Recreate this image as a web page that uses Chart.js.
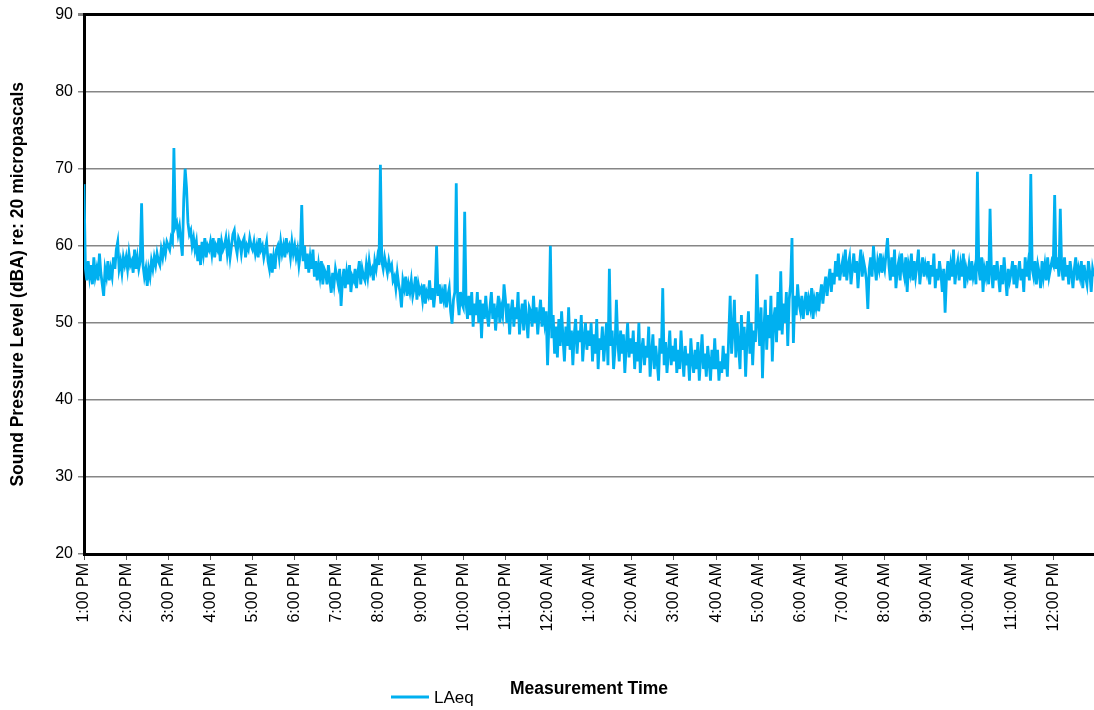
<!DOCTYPE html>
<html>
<head>
<meta charset="utf-8">
<script src="https://cdn.jsdelivr.net/npm/chart.js@4.4.1/dist/chart.umd.min.js"></script>
<style>
  html, body { margin: 0; padding: 0; background: #fff; }
  #wrap { width: 1094px; height: 710px; }
</style>
</head>
<body>
<div id="wrap"><canvas id="myChart" width="1094" height="710"></canvas></div>
<script>
// one reading every 2 minutes, starting at 1:00 PM (one row per hour)
var stepMinutes = 2;

var laeq = [
  68, 57, 55.5, 58, 56, 57.5, 55, 58.5, 56, 57, 55.5, 59, 56.5, 55, 53.5, 57, 56, 58, 55.5, 57, 56, 58.5, 57, 59.5, 60.5, 57, 58, 56.5, 58.5, 57.5,
  58.5, 57, 59, 57.5, 58, 56.5, 59.5, 57, 58.5, 57, 58, 65.5, 57.5, 56, 57, 54.8, 57, 56, 58, 57, 58.5, 57.5, 59, 58, 57.5, 59.5, 58.5, 60, 59, 60.5,
  60, 59.5, 61, 60.5, 72.7, 62.5, 63, 61.5, 62.5, 60.5, 58.7, 66, 70, 67.5, 63, 61.5, 62, 60, 61, 59.5, 60.5, 58, 60, 57.5, 60.5, 59, 61, 58.5, 60, 59.5,
  60.5, 59, 61, 58.5, 60, 59.5, 61, 58, 60.5, 59.5, 60, 61, 59, 60.5, 58.5, 60, 61.5, 62, 60, 59, 61, 60.5, 59, 60.5, 61, 58.5, 60, 59.5, 61, 60,
  59.5, 60.5, 59, 60, 58.5, 61, 59.5, 60, 58.5, 59.5, 60.5, 58, 57, 59, 56.5, 58.5, 57, 59.5, 60, 58.5, 60.5, 59, 60, 58.5, 61, 59.5, 60, 58.5, 60.5, 59,
  60, 58.5, 59.5, 57.5, 59, 65.3, 58, 60, 57, 59, 56.5, 58.5, 57, 59.5, 56, 58, 55.5, 57.5, 56, 58, 55, 57, 56.5, 55, 57.5, 55.5, 53.9, 56.5, 55, 57,
  56, 55, 57, 52.2, 55.5, 57, 54.5, 56.5, 55, 57.5, 54, 56, 55.5, 57, 54.5, 56.5, 58, 55, 57, 56, 55.5, 57.5, 56, 58, 56.5, 57, 55.5, 58, 57, 58.5,
  57.5, 70.5, 58, 57, 58.5, 57.5, 56.5, 58, 57, 57.5, 55.5, 56, 54.5, 56.5, 55, 54, 52, 55.5, 54.5, 56, 53.5, 55, 54, 55.5, 53.5, 54.5, 56, 53, 55, 54,
  54.5, 53, 55, 52.5, 54, 53.5, 55.5, 53, 54.5, 52, 54, 60, 53.5, 55, 52.5, 54, 53, 55, 52, 53.5, 54.5, 51.5, 49.9, 53, 54, 68.1, 53, 51, 54, 52.5,
  52, 64.4, 52.5, 50.5, 53.5, 51, 54, 49.5, 52.5, 51, 54, 50, 53, 48, 52.5, 50.5, 53.5, 51, 49.5, 52, 54, 50.5, 52.5, 49, 51.5, 53.5, 50, 52, 51, 55,
  53, 50, 52.5, 48.5, 51.5, 53, 49.5, 52, 50.5, 54, 48.5, 51, 52.5, 49, 53, 50.5, 48, 52, 51.5, 49.5, 53.5, 50, 52, 48.5, 51, 53, 49.5, 52, 50, 51.5,
  44.5, 50, 60, 48, 51, 46, 49.5, 45.5, 50.5, 47, 51.5, 48, 45, 49.5, 47, 52, 46.5, 49, 44.5, 48.5, 50.5, 46, 49, 47.5, 51, 45, 48, 50, 46.5, 49,
  47, 50, 45, 48.5, 46, 50.5, 44, 48, 46.5, 49.5, 45, 47.5, 50, 44.5, 57, 47, 49, 44, 46.5, 53, 47.5, 45, 49, 46, 48.5, 43.5, 47, 50, 45.5, 48,
  46, 49, 44, 47.5, 45, 50, 43.5, 46.5, 48, 44.5, 47, 45.5, 49.5, 43, 46, 48.5, 44, 47, 45, 42.5, 48, 46, 54.5, 44.5, 47.5, 43.5, 46, 49, 44.5, 47,
  45, 48, 43.5, 46.5, 44, 49, 45.5, 43, 47, 44.5, 46, 42.5, 48, 45, 43.5, 46.5, 44, 47.5, 42.5, 45.5, 48.5, 44, 46, 43, 47, 45, 42.5, 46.5, 44, 48,
  44, 46.5, 42.5, 45, 43.5, 47, 44, 46, 43, 48.5, 53.5, 46, 49, 53, 45.5, 50, 47, 44, 51, 46.5, 49.5, 43, 48, 51.5, 46, 50, 44.5, 49, 47.5, 56.3,
  50, 47, 52, 42.8, 49, 53, 46.5, 51, 48, 53.5, 45, 50.5, 52, 47.5, 54, 49, 56.7, 48.5, 52.5, 50, 54, 47, 53, 55, 61, 47.4, 53.5, 51, 55, 52.5,
  51.5, 53.5, 50.5, 52.5, 54, 51, 53, 52, 54.5, 50.5, 53, 52, 54, 51.5, 53.5, 55, 52.5, 54.5, 56, 53.5, 55.5, 57, 54, 56.5, 55, 58, 56, 59, 55.5, 57,
  58, 56, 59.5, 55.5, 57.5, 58.5, 55, 57, 59, 56.5, 58, 54.5, 57.5, 59.5, 56, 58, 57, 55.5, 51.8, 57, 58.5, 56, 60, 57.5, 55.5, 58, 57, 59, 56.5, 58,
  57, 59, 61, 57.5, 55.5, 58.5, 56, 59.5, 54.5, 57, 58, 55.5, 59, 57, 56, 58.5, 54, 57.5, 56.5, 59, 55.5, 58, 56, 57.5, 59.5, 55, 57, 58.5, 56, 57.5,
  56.5, 58, 55, 57.5, 56, 59, 54.5, 57, 55.5, 58, 56.5, 54, 57, 51.3, 56, 58, 55.5, 57.5, 56, 59.5, 55, 57, 58, 55.5, 57.5, 56, 59, 54.5, 57, 56,
  57.5, 55.5, 58, 56, 57, 55, 69.6, 57, 55.5, 58.5, 54, 57, 56, 58, 55, 64.8, 56.5, 54.5, 57.5, 55.5, 58, 56, 54, 57.5, 55, 58.5, 56, 53.5, 57, 55.5,
  56.5, 58, 55, 57.5, 54.5, 56.5, 58, 55.5, 57, 54, 58.5, 56, 57.5, 55.5, 69.3, 57, 56, 58, 55, 57.5, 56.5, 54.5, 58, 56, 57.5, 55.5, 58.5, 56, 57, 58,
  57.5, 66.6, 57, 58.5, 56, 64.8, 57, 55.5, 58.5, 56, 57.5, 55, 58, 56.5, 54.5, 57, 58.5, 55.5, 57, 56, 58, 54.5, 57.5, 56, 55, 58, 56.5, 54, 57, 56
];

var tickLabels = [
  '1:00 PM', '2:00 PM', '3:00 PM', '4:00 PM', '5:00 PM', '6:00 PM',
  '7:00 PM', '8:00 PM', '9:00 PM', '10:00 PM', '11:00 PM', '12:00 AM',
  '1:00 AM', '2:00 AM', '3:00 AM', '4:00 AM', '5:00 AM', '6:00 AM',
  '7:00 AM', '8:00 AM', '9:00 AM', '10:00 AM', '11:00 AM', '12:00 PM'
];

var points = laeq.map(function(v, i) { return {x: i * stepMinutes, y: v}; });
var lastMinute = (laeq.length - 1) * stepMinutes;

var fontFamily = '"Liberation Sans", Arial, sans-serif';
var lineColor = '#00B0F0';

// Excel-like legend entry on the same row as the x axis title
var bottomLegend = {
  id: 'bottomLegend',
  afterDraw: function(chart) {
    var c = chart.ctx;
    var ds = chart.data.datasets[0];
    c.save();
    c.strokeStyle = ds.borderColor;
    c.lineWidth = 3;
    c.beginPath();
    c.moveTo(391, 697);
    c.lineTo(429, 697);
    c.stroke();
    c.fillStyle = '#000';
    c.font = '17px ' + fontFamily;
    c.textBaseline = 'middle';
    c.fillText(ds.label, 434, 698);
    c.restore();
  }
};

var ctx = document.getElementById('myChart').getContext('2d');

var myChart = new Chart(ctx, {
  type: 'line',
  data: {
    datasets: [{
      label: 'LAeq',
      data: points,
      borderColor: lineColor,
      borderWidth: 2.8,
      pointRadius: 0,
      tension: 0,
      fill: false
    }]
  },
  options: {
    responsive: false,
    animation: false,
    layout: { padding: { top: 13, right: 0, left: 0, bottom: 0 } },
    plugins: {
      legend: { display: false },
      tooltip: { enabled: false }
    },
    scales: {
      x: {
        type: 'linear',
        min: 0,
        max: lastMinute,
        // one tick per hour
        afterBuildTicks: function(scale) {
          scale.ticks = tickLabels.map(function(l, i) { return {value: i * 60}; });
        },
        afterFit: function(scale) { scale.height = 156; },
        ticks: {
          autoSkip: false,
          maxRotation: 90,
          minRotation: 90,
          padding: 3,
          color: '#000',
          font: { family: fontFamily, size: 16 },
          callback: function(value) {
            return tickLabels[Math.round(value / 60)];
          }
        },
        grid: {
          drawOnChartArea: false,
          drawTicks: true,
          tickLength: 6,
          tickColor: '#555'
        },
        border: { color: '#000', width: 3 },
        title: {
          display: true,
          text: 'Measurement Time',
          color: '#000',
          font: { family: fontFamily, size: 17.5, weight: 'bold' },
          padding: { top: 4, bottom: 10.5 }
        }
      },
      y: {
        min: 20,
        max: 90,
        afterFit: function(scale) { scale.width = 84; },
        ticks: {
          stepSize: 10,
          padding: 5,
          color: '#000',
          font: { family: fontFamily, size: 16 }
        },
        grid: {
          color: function(c) { return c.tick && c.tick.value === 90 ? '#000' : '#868686'; },
          lineWidth: function(c) { return c.tick && c.tick.value === 90 ? 3 : 1.5; },
          tickColor: '#868686',
          tickLength: 6
        },
        border: { color: '#000', width: 3 },
        title: {
          display: true,
          text: 'Sound Pressure Level (dBA) re: 20 micropascals',
          color: '#000',
          font: { family: fontFamily, size: 17.5, weight: 'bold' },
          padding: { top: 7.5, bottom: 0 }
        }
      }
    }
  },
  plugins: [bottomLegend]
});
</script>
</body>
</html>
